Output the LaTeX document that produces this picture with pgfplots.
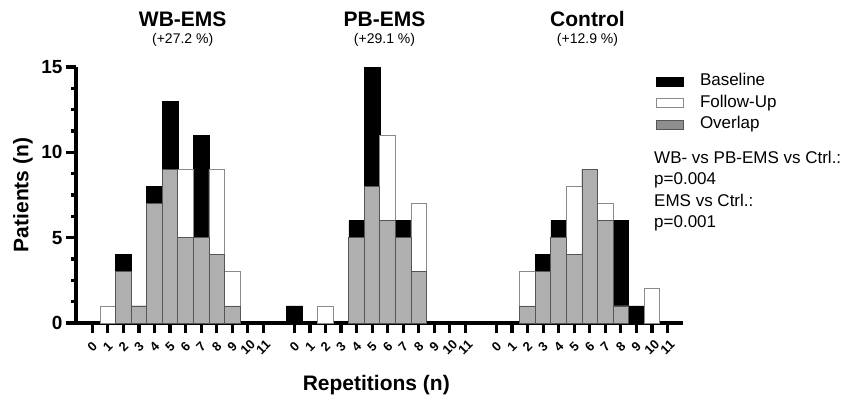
\documentclass[border=0pt]{standalone}
\usepackage{fontspec}
\setmainfont{Liberation Sans}
\usepackage{pgfplots}
\pgfplotsset{compat=1.18}

\definecolor{ovl}{HTML}{AFAFAF}
\definecolor{ovledge}{HTML}{555555}
\definecolor{fuedge}{HTML}{8A8A8A}
\definecolor{ovlleg}{HTML}{8E8E8E}

\begin{document}
\begin{tikzpicture}[x=1bp,y=1bp]
\path[use as bounding box] (-76,-77) rectangle (774,323);
\begin{axis}[
  at={(0,0)}, anchor=south west,
  scale only axis, width=607bp, height=256bp,
  xmin=-1.05, xmax=38, ymin=0, ymax=15,
  axis x line*=bottom, axis y line*=left,
  axis line style={line width=3.5bp, -},
  tick align=outside,
  major tick length=10bp, minor tick length=5bp,
  every tick/.style={black, line width=3.2bp},
  ytick={0,5,10,15}, minor y tick num=3,
  xtick={0,1,2,3,4,5,6,7,8,9,10,11,13,14,15,16,17,18,19,20,21,22,23,24,26,27,28,29,30,31,32,33,34,35,36,37},
  xticklabels={0,1,2,3,4,5,6,7,8,9,10,11,0,1,2,3,4,5,6,7,8,9,10,11,0,1,2,3,4,5,6,7,8,9,10,11},
  /pgf/number format/assume math mode=true,
  yticklabel style={font=\fontsize{19bp}{22bp}\selectfont\bfseries},
  xticklabel style={font=\fontsize{13bp}{15bp}\selectfont\bfseries, anchor=center, yshift=-14bp, rotate=45},
  legend style={at={(axis description cs:0.9555,0.975)}, anchor=north west,
    draw=none, fill=none, inner sep=0pt, row sep=5.7bp, column sep=16bp,
    font=\fontsize{17bp}{20bp}\selectfont,
    nodes={inner sep=0pt, text height=12bp, text depth=4bp}},
  legend cell align=left,
  clip=false,
]
% Baseline
\addplot[ybar, bar width=1, bar shift=0pt, fill=black, draw=black, line width=0.6bp,
  legend image code/.code={\draw[fill=black,draw=black] (0bp,-4.5bp) rectangle (27bp,4.5bp);}]
  coordinates {(2,4)(3,1)(4,8)(5,13)(6,5)(7,11)(8,4)(9,1)
               (13,1)(17,6)(18,15)(19,6)(20,6)(21,3)
               (28,1)(29,4)(30,6)(31,4)(32,9)(33,6)(34,6)(35,1)};
\addlegendentry{Baseline}
% Follow-Up
\addplot[ybar, bar width=1, bar shift=0pt, fill=white, draw=fuedge, line width=0.8bp,
  legend image code/.code={\draw[fill=white,draw=fuedge,line width=0.8bp] (0bp,-4.5bp) rectangle (27bp,4.5bp);}]
  coordinates {(1,1)(2,3)(3,1)(4,7)(5,9)(6,9)(7,5)(8,9)(9,3)
               (15,1)(17,5)(18,8)(19,11)(20,5)(21,7)
               (28,3)(29,3)(30,5)(31,8)(32,9)(33,7)(34,1)(36,2)};
\addlegendentry{Follow-Up}
% Overlap
\addplot[ybar, bar width=1, bar shift=0pt, fill=ovl, draw=ovledge, line width=0.8bp,
  legend image code/.code={\draw[fill=ovlleg,draw=ovledge,line width=0.8bp] (0bp,-4.5bp) rectangle (27bp,4.5bp);}]
  coordinates {(2,3)(3,1)(4,7)(5,9)(6,5)(7,5)(8,4)(9,1)
               (17,5)(18,8)(19,6)(20,5)(21,3)
               (28,1)(29,3)(30,5)(31,4)(32,9)(33,6)(34,1)};
\addlegendentry{Overlap}
\end{axis}
% group titles
\begin{scope}[every node/.style={inner sep=0pt, anchor=base}]
\node[font=\fontsize{21bp}{24bp}\selectfont\bfseries] at (106.7,296.3) {WB-EMS};
\node[font=\fontsize{21bp}{24bp}\selectfont\bfseries] at (308.5,296.3) {PB-EMS};
\node[font=\fontsize{21bp}{24bp}\selectfont\bfseries] at (511.5,296.3) {Control};
\node[font=\fontsize{14bp}{16bp}\selectfont] at (106.7,280) {(+27.2 \%)};
\node[font=\fontsize{14bp}{16bp}\selectfont] at (308.5,280) {(+29.1 \%)};
\node[font=\fontsize{14bp}{16bp}\selectfont] at (511.5,280) {(+12.9 \%)};
\end{scope}
% statistics
\begin{scope}[every node/.style={inner sep=0pt, anchor=base west, font=\fontsize{17bp}{20bp}\selectfont}]
\node at (578,159.6) {WB- vs PB-EMS vs Ctrl.:};
\node at (578,138.2) {p=0.004};
\node at (578,116.8) {EMS vs Ctrl.:};
\node at (578,95.4) {p=0.001};
\end{scope}
% axis titles
\node[rotate=90, inner sep=0pt, font=\fontsize{21bp}{24bp}\selectfont\bfseries] at (-53,128) {Patients (n)};
\node[inner sep=0pt, font=\fontsize{21bp}{24bp}\selectfont\bfseries] at (300.3,-62) {Repetitions (n)};
\end{tikzpicture}
\end{document}
